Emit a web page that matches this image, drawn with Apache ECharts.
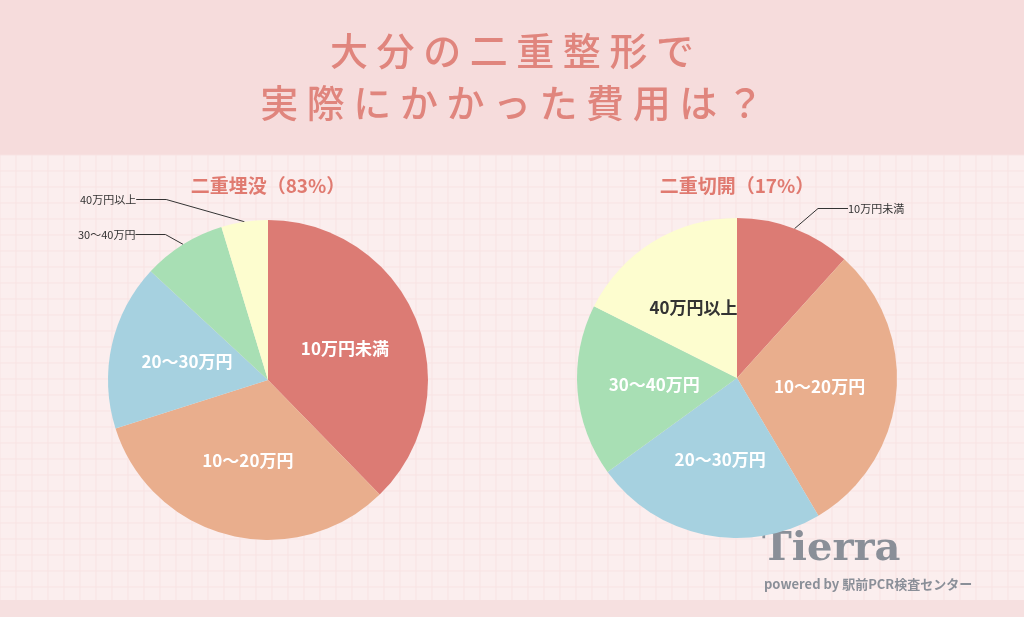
<!DOCTYPE html>
<html><head><meta charset="utf-8">
<script src="https://cdn.jsdelivr.net/npm/echarts@6/dist/echarts.min.js"></script>
<style>html,body{margin:0;padding:0;background:#fbeeee}#c{width:1024px;height:617px}</style>
</head><body><div id="c"></div>
<script>
var categories = ['10万円未満', '10～20万円', '20～30万円', '30～40万円', '40万円以上'];
var buryValues = [37.7, 32.4, 16.8, 8.4, 4.7];
var incisionValues = [11.7, 29.8, 23.5, 17.4, 17.6];
var colors = ['#dc7b74', '#e9ae8d', '#a6d1e0', '#a8dfb4', '#fdfdcf'];
var font = 'Noto Sans CJK JP';

var myChart = echarts.init(document.getElementById('c'));

// grid lines of the background
var grid = [];
for (var x = 0; x < 1024; x += 16) grid.push({type: 'line', shape: {x1: x, y1: 155, x2: x, y2: 600}, style: {stroke: '#f8e3e3', lineWidth: 1}, z: -9});
for (var y = 155; y < 600; y += 16) grid.push({type: 'line', shape: {x1: 0, y1: y, x2: 1024, y2: y}, style: {stroke: '#f8e3e3', lineWidth: 1}, z: -9});

function makeData(vals, outside) {
  return vals.map(function (v, i) {
    var d = {name: categories[i], value: v, itemStyle: {color: colors[i]}};
    if (outside.indexOf(i) >= 0) {
      d.label = {position: 'outside', color: '#333', fontSize: 11, fontWeight: 'normal'};
      d.labelLine = {show: true, lineStyle: {color: '#333', width: 1}};
    }
    return d;
  });
}

var leftLabelPos = {3: [78, 240], 4: [80, 205]};
var rightLabelPos = {0: [848, 214]};

option = {
  animation: false,
  graphic: [
    {type: 'rect', shape: {x: 0, y: 0, width: 1024, height: 155}, style: {fill: '#f6dcdc'}, z: -10},
    {type: 'rect', shape: {x: 0, y: 155, width: 1024, height: 445}, style: {fill: '#fbeeee'}, z: -10},
    {type: 'rect', shape: {x: 0, y: 600, width: 1024, height: 17}, style: {fill: '#f6e0e0'}, z: -10},
    {type: 'text', left: 'center', top: 32, style: {text: '大 分 の 二 重 整 形 で', font: '500 38px "Noto Sans CJK JP"', fill: '#e0857d'}},
    {type: 'text', left: 'center', top: 84, style: {text: '実 際 に か か っ た 費 用 は ？', font: '500 38px "Noto Sans CJK JP"', fill: '#e0857d'}},
    {type: 'text', x: 268, y: 186, style: {text: '二重埋没（83%）', font: 'bold 19px "Noto Sans CJK JP"', fill: '#e07a70', align: 'center', verticalAlign: 'middle'}},
    {type: 'text', x: 737, y: 186, style: {text: '二重切開（17%）', font: 'bold 19px "Noto Sans CJK JP"', fill: '#e07a70', align: 'center', verticalAlign: 'middle'}},
    {type: 'text', x: 762, y: 530, style: {text: 'Tierra', font: 'bold 40px "DejaVu Serif"', fill: '#8a8f98'}},
    {type: 'text', x: 764, y: 578, style: {text: 'powered by 駅前PCR検査センター', font: 'bold 13px "Noto Sans CJK JP"', fill: '#8a8f98'}}
  ].concat(grid),
  series: [
    {
      type: 'pie', center: [268, 380], radius: 160, startAngle: 90, clockwise: true,
      label: {position: 'inside', color: '#fff', fontFamily: font, fontSize: 17, fontWeight: 'bold'},
      labelLine: {show: false},
      labelLayout: function (p) {
        var q = leftLabelPos[p.dataIndex];
        return q ? {x: q[0], y: q[1], align: 'left', verticalAlign: 'bottom'} : {};
      },
      data: makeData(buryValues, [3, 4])
    },
    {
      type: 'pie', center: [737, 378], radius: 160, startAngle: 90, clockwise: true,
      label: {position: 'inside', color: '#fff', fontFamily: font, fontSize: 17, fontWeight: 'bold'},
      labelLine: {show: false},
      labelLayout: function (p) {
        var q = rightLabelPos[p.dataIndex];
        return q ? {x: q[0], y: q[1], align: 'left', verticalAlign: 'bottom'} : {};
      },
      data: makeData(incisionValues, [0]).map(function (d, i) {
        if (i === 4) d.label = {color: '#333'};
        return d;
      })
    }
  ]
};
myChart.setOption(option);
</script></body></html>
